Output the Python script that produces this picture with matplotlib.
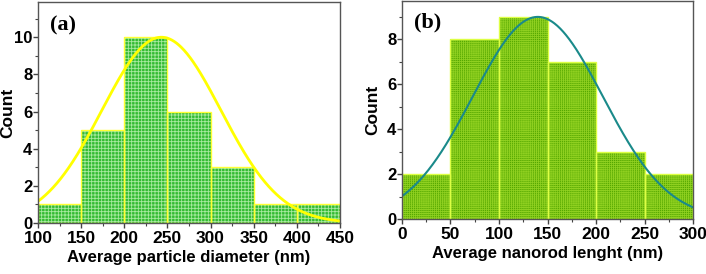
import numpy as np
import matplotlib
matplotlib.use("Agg")
import matplotlib.pyplot as plt
from matplotlib.ticker import MultipleLocator

# ---- data ----
a_bin_left = [100, 150, 200, 250, 300, 350, 400]
a_counts = [1, 5, 10, 6, 3, 1, 1]
a_bin_width = 50
a_fit_mean, a_fit_sigma, a_fit_amp = 243, 69, 10.0

b_bin_left = [0, 50, 100, 150, 200, 250]
b_counts = [2, 8, 9, 7, 3, 2]
b_bin_width = 50
b_fit_mean, b_fit_sigma, b_fit_amp = 140, 67, 9.0

a_xticks = [100, 150, 200, 250, 300, 350, 400, 450]
a_yticks = [0, 2, 4, 6, 8, 10]
b_xticks = [0, 50, 100, 150, 200, 250, 300]
b_yticks = [0, 2, 4, 6, 8]

plt.rcParams['font.family'] = ['Liberation Sans', 'DejaVu Sans']
plt.rcParams['hatch.linewidth'] = 0.6

fig = plt.figure(figsize=(7.06, 2.74), dpi=100)
axa = fig.add_axes([0.0538, 0.186, 0.4278, 0.807])
axb = fig.add_axes([0.5694, 0.2007, 0.4122, 0.795])


def style(ax, xticks, yticks, xlim, ylim, xlabel, tag, tagy, ylabx):
    ax.set_xlim(*xlim)
    ax.set_ylim(*ylim)
    ax.set_xticks(xticks)
    ax.set_yticks(yticks)
    ax.xaxis.set_minor_locator(MultipleLocator(25))
    ax.yaxis.set_minor_locator(MultipleLocator(1))
    ax.tick_params(which='major', direction='out', length=3.5, width=1, color='#444444')
    ax.tick_params(axis='x', which='major', pad=2.5, labelsize=12.5)
    ax.tick_params(axis='y', which='major', pad=0.5, labelsize=12)
    ax.tick_params(which='minor', direction='out', length=2, width=0.8, color='#444444')
    for lab in ax.get_xticklabels() + ax.get_yticklabels():
        lab.set_fontweight('bold')
    for s in ax.spines.values():
        s.set_color('#555555')
        s.set_linewidth(1.0)
    ax.set_xlabel(xlabel, fontsize=12, fontweight='bold', labelpad=2.5)
    ax.set_ylabel('Count', fontsize=12.5, fontweight='bold')
    ax.yaxis.set_label_coords(ylabx, 0.5)
    ax.text(0.04, tagy, tag, transform=ax.transAxes, fontsize=16, fontweight='bold',
            family=['Liberation Serif', 'DejaVu Serif'], va='center', ha='left')


# panel (a)
axa.bar(a_bin_left, a_counts, width=a_bin_width, align='edge', color='#33bb33',
        edgecolor='#a8eaa0', linewidth=0, hatch='+++++')
axa.bar(a_bin_left, a_counts, width=a_bin_width, align='edge', fill=False,
        edgecolor='#ffff33', linewidth=1.0)
xa = np.linspace(100, 450, 400)
axa.plot(xa, a_fit_amp * np.exp(-(xa - a_fit_mean) ** 2 / (2 * a_fit_sigma ** 2)),
         color='#ffff00', lw=2.0)
style(axa, a_xticks, a_yticks, (100, 450), (0, 11.9),
      'Average particle diameter (nm)', '(a)', 0.895, -0.075)

# panel (b)
axb.bar(b_bin_left, b_counts, width=b_bin_width, align='edge', color='#55a800',
        edgecolor='#8fd020', linewidth=0, hatch='++++++++')
axb.bar(b_bin_left, b_counts, width=b_bin_width, align='edge', fill=False,
        edgecolor='#ddff44', linewidth=1.0)
xb = np.linspace(0, 300, 400)
axb.plot(xb, b_fit_amp * np.exp(-(xb - b_fit_mean) ** 2 / (2 * b_fit_sigma ** 2)),
         color='#1a8a8a', lw=1.5)
style(axb, b_xticks, b_yticks, (0, 300), (0, 9.7),
      'Average nanorod lenght (nm)', '(b)', 0.90, -0.075)

fig.savefig('out.png', dpi=100)
